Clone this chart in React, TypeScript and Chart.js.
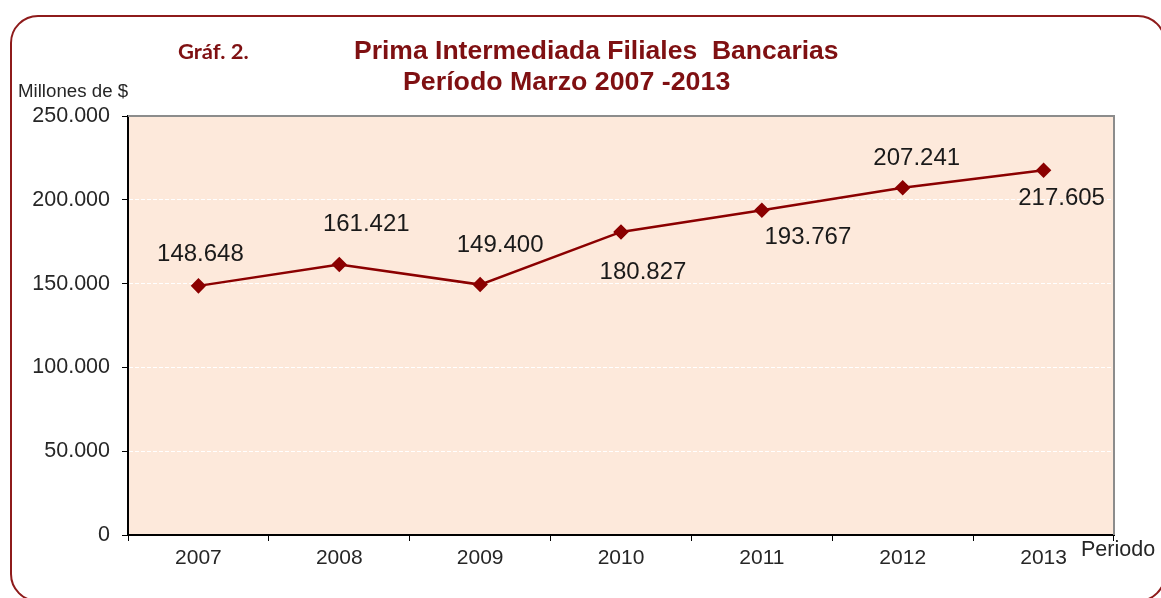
import React, { useEffect, useRef } from 'react';
import { Chart, registerables } from 'chart.js';

Chart.register(...registerables);

const categories = ['2007', '2008', '2009', '2010', '2011', '2012', '2013'];
const primaValues = [148648, 161421, 149400, 180827, 193767, 207241, 217605];
const yMin = 0;
const yMax = 250000;
const yStep = 50000;

const fmt = (v: number) => Math.round(v).toString().replace(/\B(?=(\d{3})+(?!\d))/g, '.');

// label placement relative to each point (dx, dy of label centre)
const labelOffsets: [number, number][] = [
  [2, -31], [27, -40], [20, -39], [22, 40], [46, 27], [14, -29], [18, 28],
];

const LINE_COLOR = '#8B0000';
const TITLE_COLOR = '#7F1012';
const TEXT_COLOR = '#262626';
const FONT = '"Liberation Sans", Arial, sans-serif';

const decorPlugin = {
  id: 'decor',
  beforeDraw(chart: any) {
    const { ctx, chartArea: a } = chart;
    ctx.save();
    ctx.fillStyle = '#FDE9DB';
    ctx.fillRect(a.left, a.top, a.right - a.left, a.bottom - a.top);
    ctx.restore();
  },
  afterDraw(chart: any) {
    const { ctx, chartArea: a } = chart;
    ctx.save();
    ctx.strokeStyle = '#8C8C8C';
    ctx.lineWidth = 2;
    ctx.beginPath();
    ctx.moveTo(a.left, a.top);
    ctx.lineTo(a.right, a.top);
    ctx.lineTo(a.right, a.bottom);
    ctx.stroke();
    ctx.restore();
  },
  afterDatasetsDraw(chart: any) {
    const { ctx } = chart;
    const meta = chart.getDatasetMeta(0);
    ctx.save();
    ctx.font = `24px ${FONT}`;
    ctx.fillStyle = '#1A1A1A';
    ctx.textAlign = 'center';
    ctx.textBaseline = 'middle';
    meta.data.forEach((pt: any, i: number) => {
      const [dx, dy] = labelOffsets[i];
      ctx.fillText(fmt(primaValues[i]), pt.x + dx, pt.y + dy);
    });
    ctx.restore();
  },
};

function ChartCanvas() {
  const ref = useRef<HTMLCanvasElement | null>(null);
  useEffect(() => {
    if (!ref.current) return;
    const chart = new Chart(ref.current, {
      type: 'line',
      data: {
        labels: categories,
        datasets: [
          {
            label: 'Prima Intermediada',
            data: primaValues,
            borderColor: LINE_COLOR,
            backgroundColor: LINE_COLOR,
            borderWidth: 2.5,
            pointStyle: 'rectRot',
            pointRadius: 6,
            pointHoverRadius: 6,
            pointBackgroundColor: LINE_COLOR,
            pointBorderColor: LINE_COLOR,
            tension: 0,
          },
        ],
      },
      options: {
        animation: false,
        responsive: false,
        maintainAspectRatio: false,
        layout: { padding: { left: 0, top: 116, right: 47, bottom: 0 } },
        plugins: {
          legend: { display: false },
          title: { display: false },
          tooltip: { enabled: false },
        },
        scales: {
          x: {
            offset: true,
            grid: {
              offset: true,
              drawOnChartArea: false,
              drawTicks: true,
              tickLength: 6,
              tickColor: '#000000',
              color: '#000000',
            },
            border: { display: true, color: '#000000', width: 2 },
            ticks: {
              color: TEXT_COLOR,
              font: { family: FONT, size: 21 },
              padding: 5,
              maxRotation: 0,
              autoSkip: false,
            },
            afterFit: (s: any) => { s.height = 63; },
          },
          y: {
            min: yMin,
            max: yMax,
            grid: {
              color: '#FFFFFF',
              lineWidth: 1,
              tickColor: '#000000',
              tickLength: 6,
              tickBorderDash: [],
            },
            border: { display: true, color: '#000000', width: 2, dash: [4, 2] },
            ticks: {
              stepSize: yStep,
              color: TEXT_COLOR,
              font: { family: FONT, size: 21.5 },
              padding: 12,
              callback: (v: any) => fmt(Number(v)),
            },
            afterFit: (s: any) => { s.width = 128; },
          },
        },
      },
      plugins: [decorPlugin],
    } as any);
    return () => chart.destroy();
  }, []);
  return <canvas ref={ref} width={1161} height={598} style={{ position: 'absolute', left: 0, top: 0, width: 1161, height: 598 }} />;
}

export default function App() {
  const abs: React.CSSProperties = { position: 'absolute', whiteSpace: 'pre', lineHeight: 1, margin: 0 };
  return (
    <div style={{ position: 'fixed', left: 0, top: 0, width: 1161, height: 598, overflow: 'hidden', background: '#FFFFFF', fontFamily: FONT }}>
      <div
        style={{
          position: 'absolute', left: 10, top: 15, width: 1156, height: 587,
          border: '2.5px solid #8E1B1B', borderRadius: 28, boxSizing: 'border-box',
        }}
      />
      <ChartCanvas />
      <div style={{ ...abs, left: 178, top: 41, fontFamily: 'Lato, "Open Sans", sans-serif', fontWeight: 700, fontSize: 20, color: TITLE_COLOR, transform: 'scaleX(1.1)', transformOrigin: 'left center' }}>Gráf. 2.</div>
      <div style={{ ...abs, left: 354, top: 37, fontWeight: 700, fontSize: 26.5, color: TITLE_COLOR }}>Prima Intermediada Filiales  Bancarias</div>
      <div style={{ ...abs, left: 403, top: 68, fontWeight: 700, fontSize: 26.5, color: TITLE_COLOR, transform: 'scaleX(1.01)', transformOrigin: 'left center' }}>Período Marzo 2007 -2013</div>
      <div style={{ ...abs, left: 18, top: 82, fontSize: 18.7, color: TEXT_COLOR }}>Millones de $</div>
      <div style={{ ...abs, left: 1081, top: 539, fontSize: 21.5, color: TEXT_COLOR }}>Periodo</div>
    </div>
  );
}
